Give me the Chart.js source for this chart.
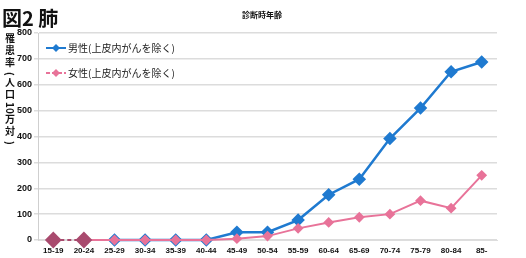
<!DOCTYPE html>
<html>
<head>
<meta charset="utf-8">
<script src="https://cdn.jsdelivr.net/npm/chart.js@4"></script>
<style>
  html, body { margin: 0; padding: 0; background: #fff; }
  #wrap { width: 526px; height: 258px; }
</style>
</head>
<body>
<div id="wrap"><canvas id="lungChart" width="526" height="258"></canvas></div>
<script>
// age groups and rates (per 100,000)
const ageGroups = ["15-19", "20-24", "25-29", "30-34", "35-39", "40-44", "45-49", "50-54", "55-59", "60-64", "65-69", "70-74", "75-79", "80-84", "85-"];
const maleRates = [null, null, 0, 0, 0, 0, 30, 30, 77, 175, 235, 392, 510, 650, 688];
const femaleRates = [0, 0, 0, 0, 0, 0, 5, 15, 45, 68, 88, 100, 152, 123, 250];
const yTicks = [0, 100, 200, 300, 400, 500, 600, 700, 800];
const legendLabels = ["男性(上皮内がんを除く)", "女性(上皮内がんを除く)"];

const jpFont = '"Noto Sans CJK JP", "Noto Sans", sans-serif';
const maleColor = "#1f7ad0";
const femaleColor = "#e87399";
const zeroColor = "#a94a6e";

// title, axis caption and inside legend
const decorPlugin = {
	id: "decor",
	afterDraw(chart) {
		const ctx = chart.ctx;
		const area = chart.chartArea;
		ctx.save();
		ctx.fillStyle = "#111";
		ctx.textBaseline = "middle";
		ctx.font = "bold 20px " + jpFont;
		ctx.fillText("図2 肺", 2, 18);
		ctx.font = "bold 8px " + jpFont;
		ctx.textAlign = "center";
		ctx.fillText("診断時年齢", 262, 15);

		// vertical y caption
		const cap = ["罹", "患", "率", "(", "人", "口", "10", "万", "対", ")"];
		let y = 38;
		ctx.font = "bold 10px " + jpFont;
		cap.forEach(ch => {
			if (ch === "(" || ch === ")" || ch === "10") {
				ctx.save();
				ctx.translate(10, y + (ch === "10" ? 2 : 0));
				ctx.rotate(Math.PI / 2);
				ctx.fillText(ch, 0, 0);
				ctx.restore();
				y += ch === "10" ? 13 : 8;
			} else {
				ctx.fillText(ch, 10, y);
				y += 12;
			}
		});

		// legend
		const colors = [maleColor, femaleColor];
		ctx.textAlign = "left";
		ctx.font = "10px " + jpFont;
		legendLabels.forEach((lab, i) => {
			const ly = area.top + 15 + i * 25;
			ctx.strokeStyle = colors[i];
			ctx.lineWidth = 2;
			if (i === 1) ctx.setLineDash([4, 2]);
			ctx.beginPath();
			ctx.moveTo(46, ly);
			ctx.lineTo(66, ly);
			ctx.stroke();
			ctx.setLineDash([]);
			ctx.fillStyle = colors[i];
			ctx.beginPath();
			ctx.moveTo(56, ly - 4);
			ctx.lineTo(60, ly);
			ctx.lineTo(56, ly + 4);
			ctx.lineTo(52, ly);
			ctx.closePath();
			ctx.fill();
			ctx.fillStyle = "#222";
			ctx.fillText(lab, 68, ly);
		});
		ctx.restore();
	}
};

const femalePointColor = femaleRates.map((v, i) => i < 2 ? zeroColor : femaleColor);
const femalePointRadius = femaleRates.map((v, i) => i < 2 ? 7 : 4);

new Chart(document.getElementById("lungChart"), {
	type: "line",
	data: {
		labels: ageGroups,
		datasets: [
			{
				label: legendLabels[1],
				data: femaleRates,
				borderColor: femaleColor,
				backgroundColor: femalePointColor,
				pointBackgroundColor: femalePointColor,
				pointBorderColor: femalePointColor,
				pointStyle: "rectRot",
				pointRadius: femalePointRadius,
				borderWidth: 2,
				clip: false,
				segment: {
					borderDash: c => c.p0DataIndex === 0 ? [4, 3] : undefined,
					borderColor: c => c.p0DataIndex === 0 ? zeroColor : undefined
				},
				order: 0
			},
			{
				label: legendLabels[0],
				data: maleRates,
				borderColor: maleColor,
				backgroundColor: maleColor,
				pointBackgroundColor: maleColor,
				pointBorderColor: maleColor,
				pointStyle: "rectRot",
				pointRadius: 5,
				borderWidth: 2.5,
				clip: false,
				order: 1
			}
		]
	},
	options: {
		responsive: false,
		animation: false,
		layout: { padding: { left: 0, right: 29, top: 33, bottom: 0 } },
		plugins: {
			legend: { display: false },
			tooltip: { enabled: false }
		},
		scales: {
			x: {
				offset: true,
				grid: { display: false, drawTicks: false },
				border: { color: "#ddd" },
				ticks: {
					color: "#111",
					padding: 6,
					maxRotation: 0,
					autoSkip: false,
					font: { size: 8, weight: "bold", family: "Liberation Sans Narrow, Arial Narrow, sans-serif" }
				},
				afterFit: s => { s.height = 18; }
			},
			y: {
				min: 0,
				max: 800,
				afterBuildTicks: s => { s.ticks = yTicks.map(v => ({ value: v })); },
				grid: { color: "#dcdcdc", lineWidth: 1.5, tickLength: 4 },
				border: { color: "#cfcfcf" },
				ticks: {
					color: "#111",
					padding: 2,
					font: { size: 9, weight: "bold", family: "Liberation Sans Narrow, sans-serif" }
				},
				afterFit: s => { s.width = 38; }
			}
		}
	},
	plugins: [decorPlugin]
});
</script>
</body>
</html>
